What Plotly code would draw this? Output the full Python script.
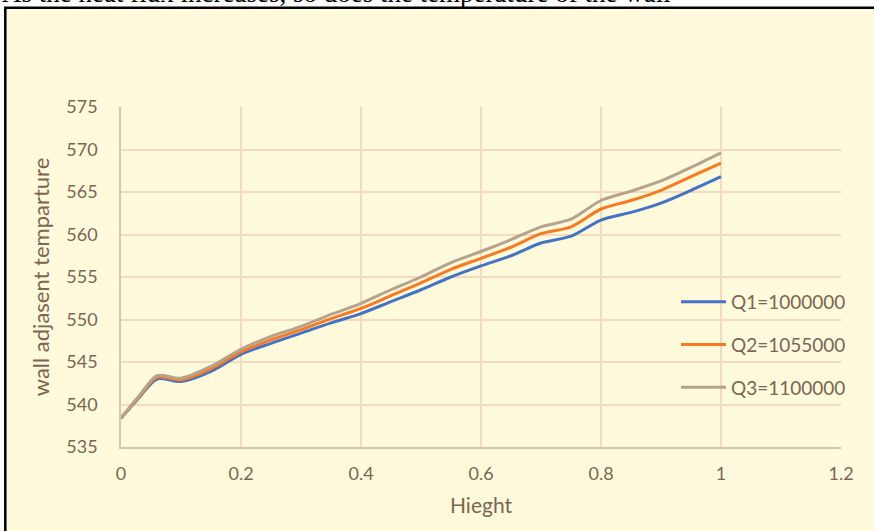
import plotly.graph_objects as go

height = [0, 0.03, 0.06, 0.1, 0.15, 0.2, 0.25, 0.3, 0.35, 0.4, 0.45, 0.5,
          0.55, 0.6, 0.65, 0.7, 0.75, 0.8, 0.85, 0.9, 0.95, 1.0]
q1 = [538.4, 540.8, 543.0, 542.7, 543.9, 545.9, 547.2, 548.4, 549.6, 550.7, 552.1, 553.5,
      555.0, 556.3, 557.5, 559.0, 559.8, 561.7, 562.6, 563.7, 565.2, 566.8]
q2 = [538.4, 540.9, 543.2, 542.9, 544.2, 546.2, 547.6, 548.8, 550.1, 551.3, 552.8, 554.3,
      555.9, 557.2, 558.5, 560.1, 560.9, 563.0, 564.0, 565.2, 566.8, 568.4]
q3 = [538.4, 541.0, 543.4, 543.1, 544.5, 546.5, 548.0, 549.2, 550.6, 551.9, 553.5, 555.0,
      556.7, 558.0, 559.4, 560.9, 561.8, 564.0, 565.1, 566.3, 567.9, 569.6]
names = ["Q1=1000000", "Q2=1055000", "Q3=1100000"]
colors = ["#4472C4", "#F97A22", "#B6A38B"]

x_ticks = [0, 0.2, 0.4, 0.6, 0.8, 1, 1.2]
x_ticktext = ["0", "0.2", "0.4", "0.6", "0.8", "1", "1.2"]
y_ticks = [535, 540, 545, 550, 555, 560, 565, 570, 575]

txt = "#7A6652"
grid = "#F5DAC0"
font = "Lato"

fig = go.Figure()
for i, (ys, nm, c) in enumerate(zip([q1, q2, q3], names, colors)):
    fig.add_trace(go.Scatter(x=height, y=ys, name=nm, mode="lines",
                             line=dict(color=c, width=3, shape="spline", smoothing=0.8),
                             legendgroup=f"g{i}"))

W, H = 874, 531
L, R, T, B = 121, 33, 107, 84
pw, ph = W - L - R, H - T - B

def px_x(p):
    return (p - L) / pw

def px_y(p):
    return 1 - (p - T) / ph

fig.add_shape(type="rect", xref="paper", yref="paper",
              x0=px_x(5.3), x1=px_x(900), y0=px_y(560), y1=px_y(7.8),
              fillcolor="#FFFADC", line=dict(color="black", width=2.5), layer="below")

fig.add_annotation(text="As the heat flux increases, so does the temperature of the wall",
                   xref="paper", yref="paper", x=px_x(0), y=px_y(-7), xanchor="left",
                   yanchor="middle", showarrow=False,
                   font=dict(family="Liberation Serif", size=27, color="black"))

fig.update_layout(
    width=W, height=H,
    margin=dict(l=L, r=R, t=T, b=B),
    paper_bgcolor="white",
    plot_bgcolor="rgba(0,0,0,0)",
    font=dict(family=font, color=txt, size=18),
    showlegend=True,
    legend=dict(x=px_x(676), y=px_y(283), xanchor="left", yanchor="top",
                bgcolor="rgba(0,0,0,0)", font=dict(size=19, color=txt),
                tracegroupgap=15, traceorder="grouped", itemwidth=45),
)
fig.update_xaxes(range=[0, 1.2], tickvals=x_ticks, ticktext=x_ticktext,
                 showgrid=True, gridcolor=grid, gridwidth=1.5,
                 showline=True, linecolor="#DCC4A6", linewidth=1.5,
                 zeroline=False, ticks="", ticklabelstandoff=10,
                 title=dict(text="Hieght", font=dict(size=21, color=txt), standoff=15),
                 tickfont=dict(size=18, color=txt))
fig.update_yaxes(range=[535, 575], tickvals=y_ticks,
                 showgrid=True, gridcolor=grid, gridwidth=1.5,
                 showline=True, linecolor="#DCC4A6", linewidth=1.5,
                 zeroline=False, ticks="", ticklabelstandoff=18,
                 title=dict(text="wall adjasent temparture", font=dict(size=22, color=txt), standoff=11),
                 tickfont=dict(size=18, color=txt))
fig.write_html("out.html")
